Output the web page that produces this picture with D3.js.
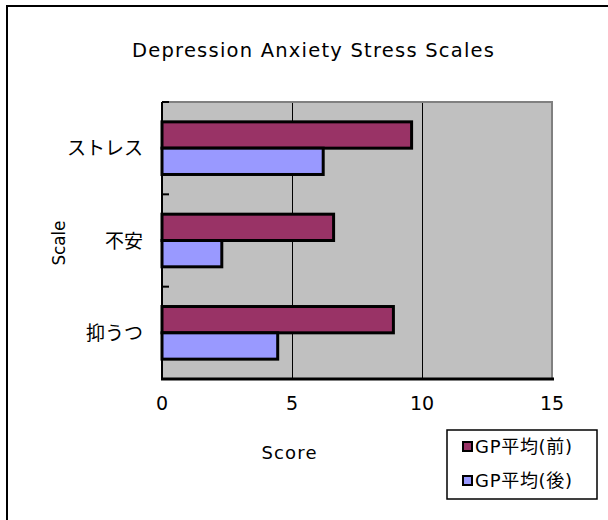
<!DOCTYPE html>
<html><head><meta charset="utf-8">
<script src="https://cdn.jsdelivr.net/npm/d3@7"></script>
<style>
body{margin:0;background:#fff;}
text{font-family:"DejaVu Sans","Noto Sans CJK JP",sans-serif;fill:#000;}
text.jp{font-family:"Noto Sans CJK JP","DejaVu Sans",sans-serif;}
</style></head>
<body><svg id="c" width="608" height="520"></svg>
<script>
const categories = ["ストレス","不安","抑うつ"];
const seriesNames = ["GP平均(前)","GP平均(後)"];
const before = [9.6, 6.6, 8.9];
const after = [6.2, 2.3, 4.45];
const xTicks = [0,5,10,15];
const colors = ["#993366","#9999FF"];

const svg = d3.select("#c");
const L=162, R=552, T=102, B=379;

// outer frame
svg.append("path").attr("d","M7,520 L7,6 L608,6").attr("fill","none").attr("stroke","#000").attr("stroke-width",2);

const x = d3.scaleLinear().domain([0,15]).range([L,R]);
const y = d3.scaleBand().domain(categories).range([T,B]).paddingInner(0.43).paddingOuter(0.215);
const ys = d3.scaleBand().domain([0,1]).range([0,y.bandwidth()]);

svg.append("rect").attr("x",L).attr("y",T).attr("width",R-L).attr("height",B-T).attr("fill","#C0C0C0");
// grid
svg.selectAll(".grid").data(xTicks.filter(d=>d>0&&d<15)).join("line")
  .attr("x1",d=>Math.round(x(d))+0.5).attr("x2",d=>Math.round(x(d))+0.5).attr("y1",T).attr("y2",B)
  .attr("stroke","#000").attr("stroke-width",1).attr("shape-rendering","crispEdges");
// gray top/right border
svg.append("path").attr("d",`M${L},${T} L${R},${T} L${R},${B}`).attr("fill","none").attr("stroke","#808080").attr("stroke-width",2);

const series = [before, after];
series.forEach((vals,si)=>{
  svg.selectAll(".b"+si).data(categories).join("rect")
    .attr("x",x(0)).attr("y",(d)=>y(d)+ys(si))
    .attr("width",(d,i)=>x(vals[i])-x(0)).attr("height",ys.bandwidth())
    .attr("fill",colors[si]).attr("stroke","#000").attr("stroke-width",3);
});

// axes lines
svg.append("line").attr("x1",L).attr("x2",L).attr("y1",T).attr("y2",B+1).attr("stroke","#000").attr("stroke-width",2);
svg.append("line").attr("x1",L-1).attr("x2",R+2).attr("y1",B).attr("y2",B).attr("stroke","#000").attr("stroke-width",3);
// y ticks at band boundaries (inside)
const bounds = [T].concat(categories.slice(1).map(c=>y(c)-y.step()*y.paddingInner()/2));
svg.selectAll(".yt").data(bounds).join("line")
  .attr("x1",L).attr("x2",L+7).attr("y1",d=>d).attr("y2",d=>d).attr("stroke","#000").attr("stroke-width",2);

// x tick labels
svg.selectAll(".xl").data(xTicks).join("text")
  .attr("x",d=>x(d)).attr("y",410).attr("text-anchor","middle").attr("font-size",19).text(d=>d);
// category labels
svg.selectAll(".cl").data(categories).join("text").attr("class","jp")
  .attr("x",143).attr("y",d=>y(d)+y.bandwidth()/2+7).attr("text-anchor","end").attr("font-size",19).text(d=>d);

// title
svg.append("text").attr("x",313).attr("y",57).attr("text-anchor","middle").attr("font-size",19.5)
  .attr("textLength",362).attr("lengthAdjust","spacing").text("Depression Anxiety Stress Scales");
svg.append("text").attr("x",289).attr("y",459).attr("text-anchor","middle").attr("font-size",18)
  .attr("textLength",55).attr("lengthAdjust","spacing").text("Score");
svg.append("text").attr("transform","translate(65,243) rotate(-90)").attr("text-anchor","middle").attr("font-size",17)
  .attr("textLength",45).attr("lengthAdjust","spacing").text("Scale");

// legend
svg.append("rect").attr("x",447).attr("y",430).attr("width",150).attr("height",69).attr("fill","#fff").attr("stroke","#000").attr("stroke-width",1.5);
seriesNames.forEach((n,i)=>{
  const cy = 447 + i*34;
  svg.append("rect").attr("x",463).attr("y",cy-5).attr("width",9).attr("height",9).attr("fill",colors[i]).attr("stroke","#000").attr("stroke-width",2);
  svg.append("text").attr("x",475).attr("y",cy+6).attr("font-size",18)
    .attr("textLength",97).attr("lengthAdjust","spacing").text(n);
});
</script></body></html>
